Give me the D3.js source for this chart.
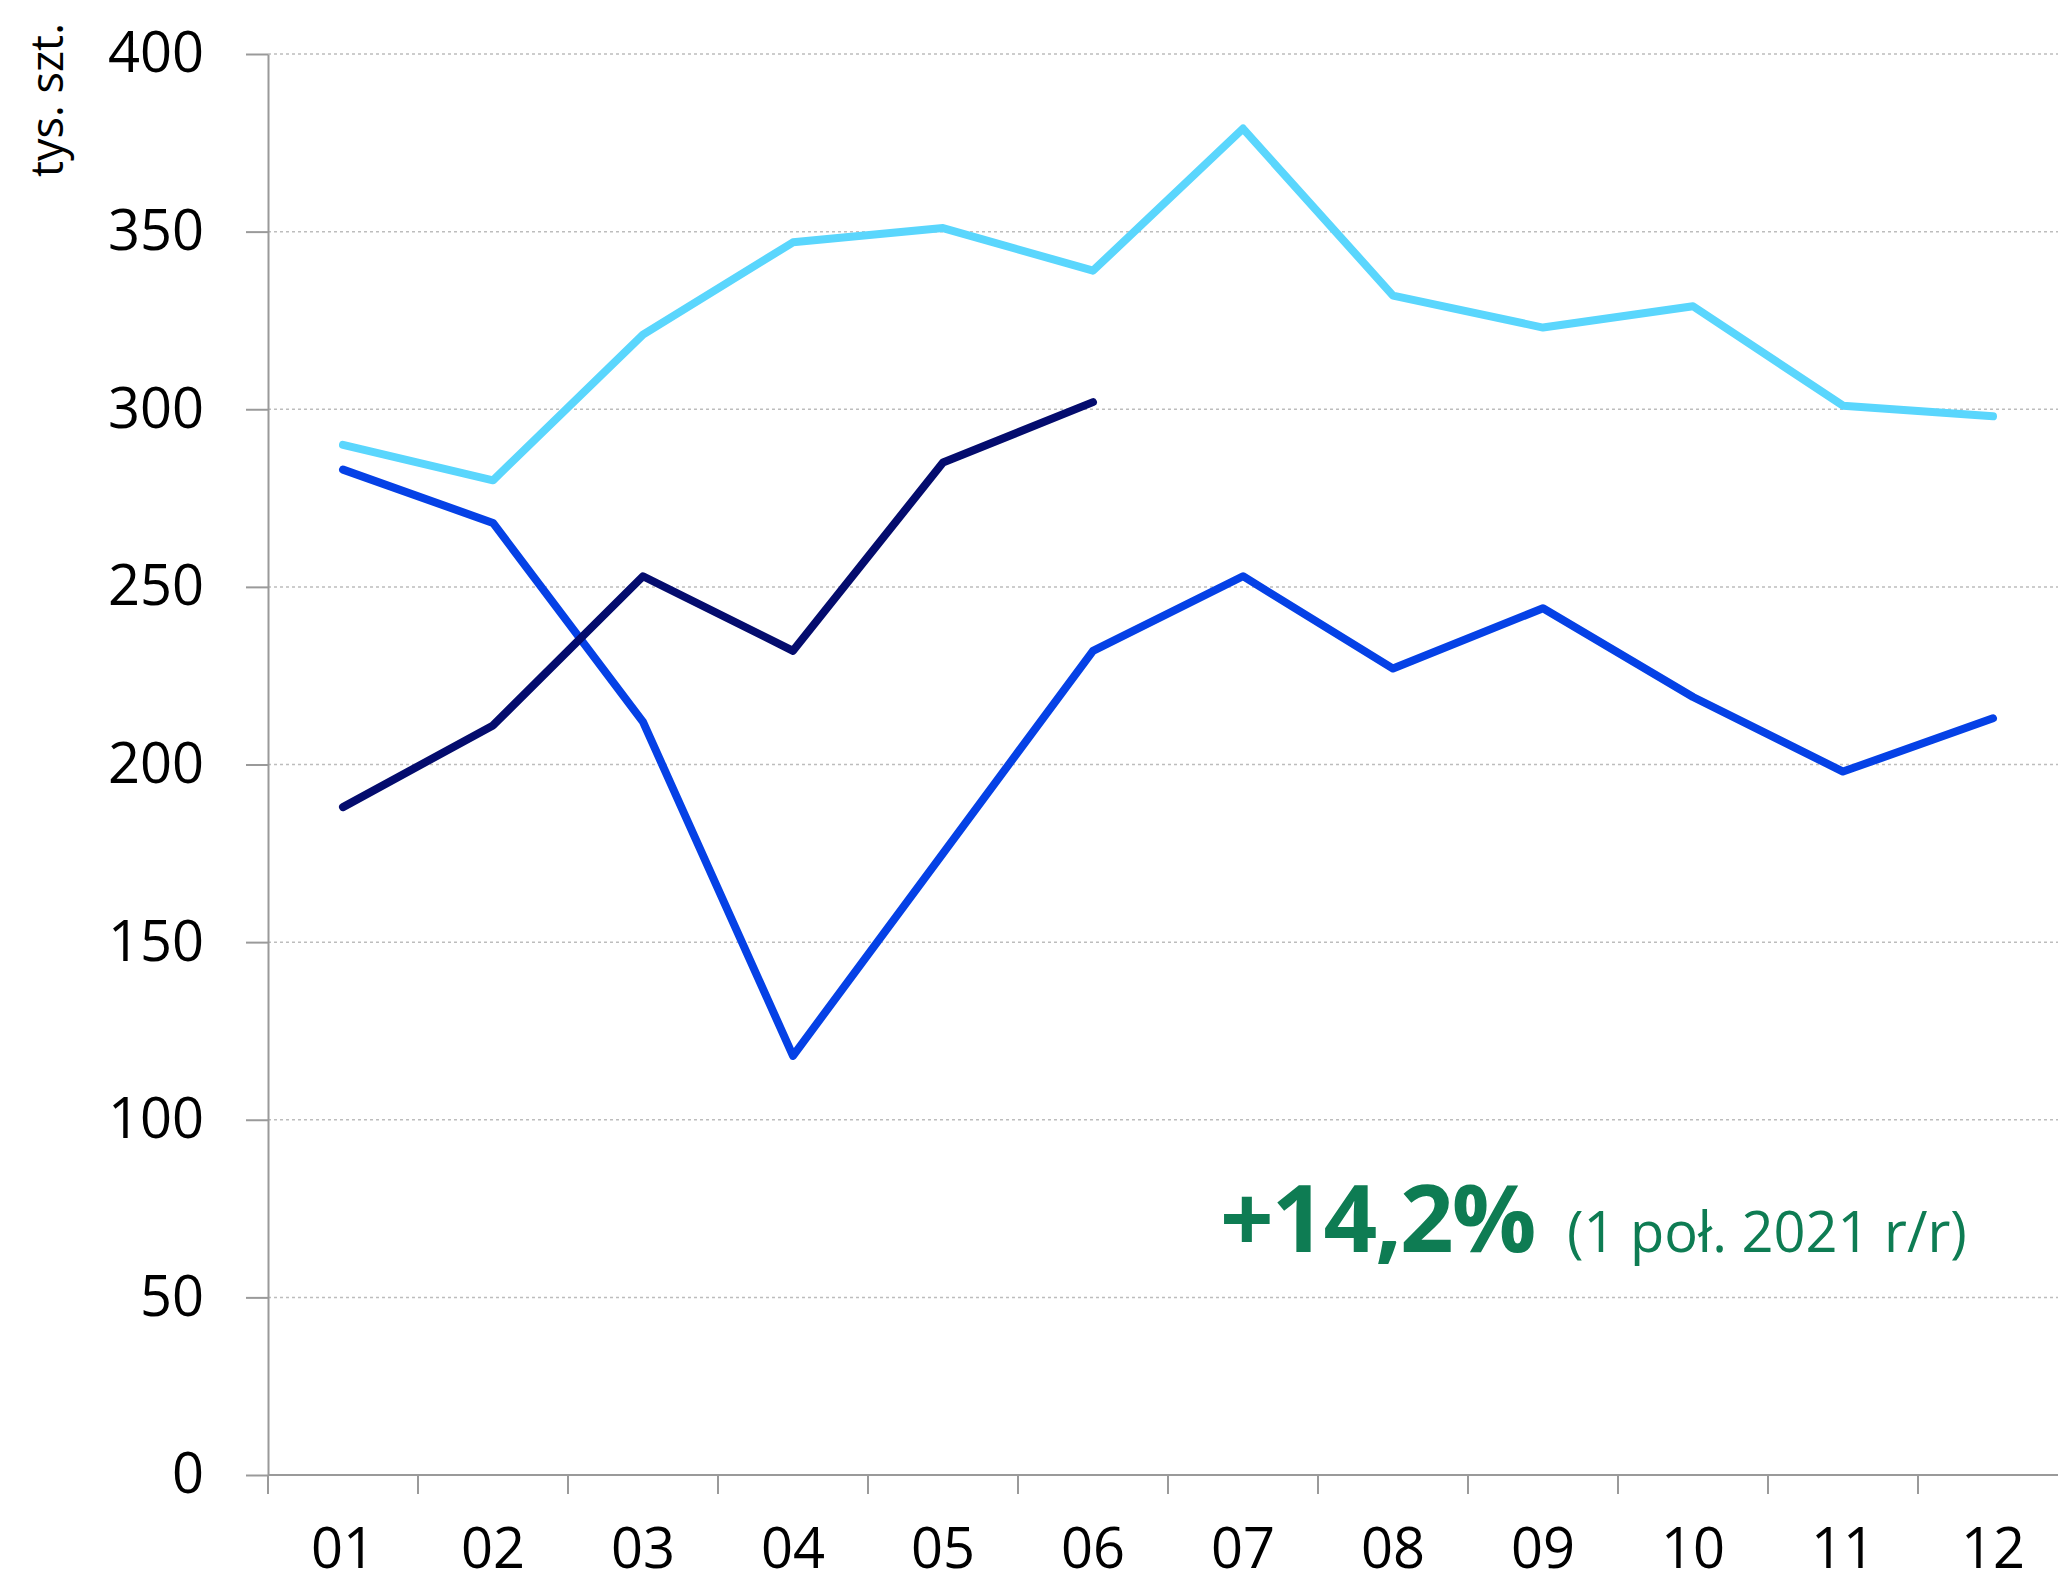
<!DOCTYPE html>
<html>
<head>
<meta charset="utf-8">
<script src="https://cdn.jsdelivr.net/npm/d3@7"></script>
<style>
  body { margin: 0; background: #fff; }
  svg { display: block; font-family: "Open Sans", sans-serif; }
  .grid line { stroke: #bdbdbd; stroke-width: 1.5; stroke-dasharray: 3 3; }
  .axis path, .axis line { stroke: #9a9a9a; stroke-width: 2; }
  .axis text { fill: #000; font-size: 56px; font-family: "Open Sans", sans-serif; }
</style>
</head>
<body>
<svg id="chart"></svg>
<script>
// months on the x axis
const months = ['01', '02', '03', '04', '05', '06', '07', '08', '09', '10', '11', '12'];
// thousands of units
const series2019 = [290, 280, 321, 347, 351, 339, 379, 332, 323, 329, 301, 298];
const series2020 = [283, 268, 212, 118, 175, 232, 253, 227, 244, 219, 198, 213];
const series2021 = [188, 211, 253, 232, 285, 302];
const yTicks = [0, 50, 100, 150, 200, 250, 300, 350, 400];
const seriesColors = ['#5ad6fd', '#0541e6', '#040c6e'];

const width = 2058, height = 1585;
const margin = {top: 54, left: 268, bottom: 110};
const bandW = 150;

const svg = d3.select('#chart')
    .attr('width', width)
    .attr('height', height);

const xScale = d3.scaleBand()
    .domain(months)
    .range([margin.left, margin.left + bandW * months.length]);

const yScale = d3.scaleLinear()
    .domain([0, 400])
    .range([height - margin.bottom, margin.top]);

// dotted gridlines
svg.append('g')
    .attr('class', 'grid')
  .selectAll('line')
    .data(yTicks.filter(d => d > 0))
  .join('line')
    .attr('x1', margin.left)
    .attr('x2', width)
    .attr('y1', d => yScale(d))
    .attr('y2', d => yScale(d));

// y axis
const yAxis = d3.axisLeft(yScale)
    .tickValues(yTicks)
    .tickSizeInner(22)
    .tickSizeOuter(0)
    .tickPadding(42);

svg.append('g')
    .attr('class', 'axis y-axis')
    .attr('transform', `translate(${margin.left},0)`)
    .call(yAxis);

// x axis line + boundary ticks
const xAxisG = svg.append('g')
    .attr('class', 'axis x-axis');

xAxisG.append('line')
    .attr('x1', margin.left)
    .attr('x2', width)
    .attr('y1', yScale(0))
    .attr('y2', yScale(0));

xAxisG.selectAll('.bound')
    .data(months)
  .join('line')
    .attr('class', 'bound')
    .attr('x1', d => xScale(d))
    .attr('x2', d => xScale(d))
    .attr('y1', yScale(0))
    .attr('y2', yScale(0) + 19);

// month labels
const xAxis = d3.axisBottom(xScale).tickSize(0).tickPadding(0);
const xLabels = svg.append('g')
    .attr('class', 'axis x-labels')
    .attr('transform', `translate(0,${yScale(0) + 93})`)
    .call(xAxis);
xLabels.select('.domain').remove();
xLabels.selectAll('text').attr('dy', 0).attr('y', 0);

// unit label
svg.append('text')
    .attr('transform', 'translate(63,100) rotate(-90)')
    .attr('text-anchor', 'middle')
    .style('font-size', '45px')
    .text('tys. szt.');

// lines
const line = d3.line()
    .x((d, i) => xScale(months[i]) + xScale.bandwidth() / 2)
    .y(d => yScale(d));

[series2019, series2020, series2021].forEach((s, i) => {
  svg.append('path')
      .datum(s)
      .attr('fill', 'none')
      .attr('stroke', seriesColors[i])
      .attr('stroke-width', 8)
      .attr('stroke-linecap', 'round')
      .attr('stroke-linejoin', 'round')
      .attr('d', line);
});

// annotation
svg.append('text')
    .attr('x', 1220)
    .attr('y', 1252)
    .attr('fill', '#0e7c53')
    .style('font-size', '94px')
    .style('font-weight', 'bold')
    .style('letter-spacing', '-2px')
    .text('+14,2%');

svg.append('text')
    .attr('x', 1567)
    .attr('y', 1252)
    .attr('fill', '#0e7c53')
    .style('font-size', '56px')
    .text('(1 poł. 2021 r/r)');
</script>
</body>
</html>
